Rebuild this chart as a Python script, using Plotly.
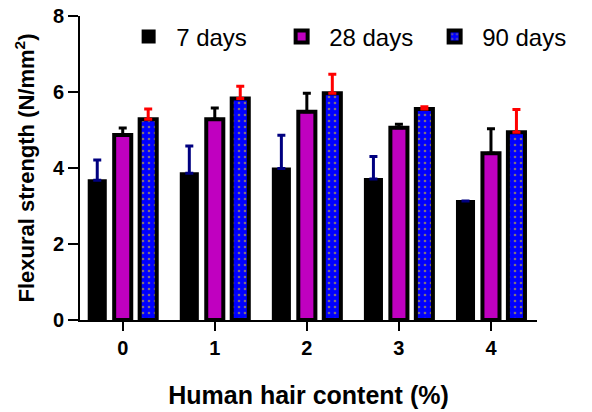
import plotly.graph_objects as go

categories = ["0", "1", "2", "3", "4"]
days7 = [3.68, 3.86, 3.99, 3.71, 3.13]
days7_err = [0.53, 0.72, 0.87, 0.59, None]
days28 = [4.87, 5.28, 5.48, 5.06, 4.39]
days28_err = [0.18, 0.30, 0.49, 0.09, 0.64]
days90 = [5.28, 5.83, 5.97, 5.55, 4.94]
days90_err = [0.27, 0.32, 0.50, 0.06, 0.60]

font_family = "Arial, Liberation Sans, sans-serif"

fig = go.Figure()
fig.add_trace(go.Bar(
    x=categories, y=days7, name="7 days",
    marker=dict(color="black", line=dict(color="black", width=2)),
    error_y=dict(type="data", array=days7_err, symmetric=False,
                 arrayminus=[0]*5, color="#000080", thickness=3, width=4),
))
fig.add_trace(go.Bar(
    x=categories, y=days28, name="28 days",
    marker=dict(color="#C000C0", line=dict(color="black", width=4)),
    error_y=dict(type="data", array=days28_err, symmetric=False,
                 arrayminus=[0]*5, color="black", thickness=3, width=4),
))
fig.add_trace(go.Bar(
    x=categories, y=days90, name="90 days",
    marker=dict(color="#0000FF", line=dict(color="black", width=4),
                pattern=dict(shape=".", fgcolor="#FFE000", bgcolor="#0000FF",
                             size=6, solidity=0.15)),
    error_y=dict(type="data", array=days90_err, symmetric=False,
                 arrayminus=[0]*5, color="red", thickness=3, width=4),
))

fig.update_layout(
    width=592, height=412,
    margin=dict(l=80, r=55, t=16, b=92, autoexpand=False),
    plot_bgcolor="white", paper_bgcolor="white",
    barmode="group", bargap=0.17, bargroupgap=0.33,
    font=dict(family=font_family, color="black"),
    showlegend=True,
    legend=dict(orientation="h", x=0.09, y=1.005, xanchor="left", yanchor="top",
                font=dict(size=24, family=font_family, color="black"),
                bgcolor="rgba(0,0,0,0)", itemwidth=45, entrywidth=93,
                entrywidthmode="pixels", tracegroupgap=0),
)
fig.update_xaxes(
    type="category", range=[-0.464, 4.5], automargin=False,
    showline=True, linecolor="black", linewidth=2,
    ticks="outside", ticklen=9, tickwidth=2, tickcolor="black",
    tickfont=dict(size=20, family=font_family, color="black", weight="bold"),
    title=dict(text="<b>Human hair content (%)</b>", font=dict(size=25), standoff=28),
    showgrid=False, zeroline=False,
)
fig.update_yaxes(
    range=[0, 8], tickvals=[0, 2, 4, 6, 8], automargin=False,
    ticklabeloverflow="allow",
    showline=True, linecolor="black", linewidth=2,
    ticks="outside", ticklen=10, tickwidth=2, tickcolor="black",
    tickfont=dict(size=20, family=font_family, color="black", weight="bold"),
    title=dict(text="<b>Flexural strength (N/mm<sup>2</sup>)</b>", font=dict(size=22), standoff=12),
    showgrid=False, zeroline=False,
)

fig.write_html("out.html", config={"displayModeBar": False},
               post_script="document.body.style.margin='0';")
